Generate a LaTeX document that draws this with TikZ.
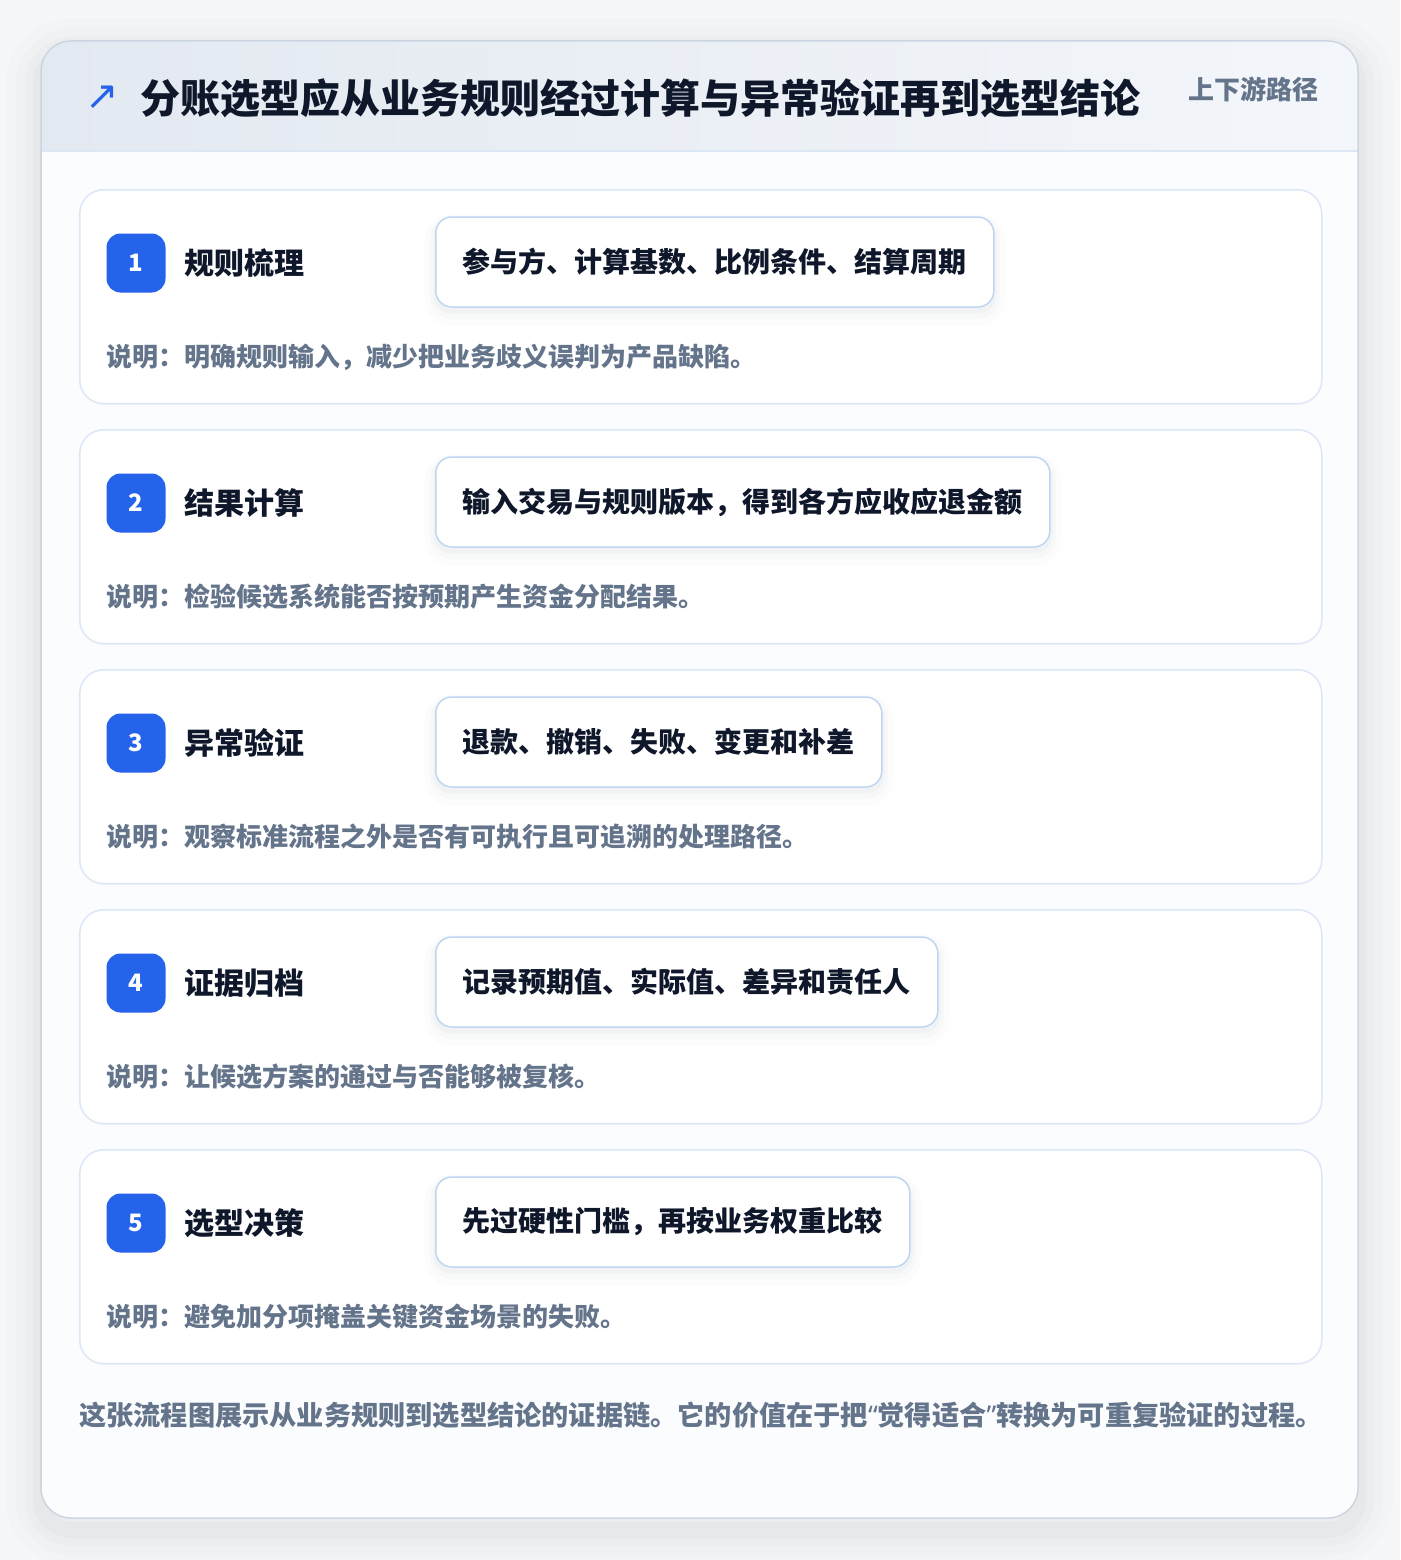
\documentclass[tikz,border=0pt]{standalone}
\usepackage{fontspec}
\setmainfont{Noto Sans CJK SC}
\newfontfamily\symfont{DejaVu Sans}
\newfontfamily\latinfont{Noto Sans}
\usetikzlibrary{positioning}

\definecolor{pagebg}{HTML}{F6F7F9}
\definecolor{cardbg}{HTML}{FBFCFE}
\definecolor{frame}{HTML}{CBD5E1}
\definecolor{hdrL}{HTML}{E3E9F1}
\definecolor{hdrR}{HTML}{F3F6FA}
\definecolor{hdrline}{HTML}{DCE7F5}
\definecolor{stepline}{HTML}{DBE7F7}
\definecolor{boxline}{HTML}{BFD6F3}
\definecolor{accent}{HTML}{2563EB}
\definecolor{ink}{HTML}{0F172A}
\definecolor{muted}{HTML}{64748B}
\definecolor{shade}{HTML}{475569}

\tikzset{
  stepcard/.style={draw=stepline, fill=white, line width=1.5pt, rounded corners=24pt,
    minimum width=1242pt, minimum height=214pt, inner sep=0pt, anchor=north west},
  badge/.style={fill=accent, rounded corners=14pt, minimum size=59pt, inner sep=0pt,
    text=white, font=\bfseries\fontsize{24}{24}\selectfont},
  steptitle/.style={anchor=west, inner sep=0pt, text=ink, font=\bfseries\fontsize{30}{30}\selectfont},
  keybox/.style={draw=boxline, fill=white, line width=1.5pt, rounded corners=16pt,
    minimum height=90pt, inner xsep=27pt, anchor=west, text=ink,
    font=\bfseries\fontsize{28}{28}\selectfont,
    preaction={draw=shade, line width=22pt, opacity=0.015, transform canvas={yshift=-8pt}},
    preaction={draw=shade, line width=12pt, opacity=0.025, transform canvas={yshift=-6pt}},
    preaction={draw=shade, line width=5pt, opacity=0.03, transform canvas={yshift=-4pt}}},
  note/.style={anchor=west, inner sep=0pt, text=muted, font=\bfseries\fontsize{26}{26}\selectfont},
}

\begin{document}
\begin{tikzpicture}[x=1pt, y=-1pt]
  \useasboundingbox (0,0) rectangle (1400,1560);
  \fill[pagebg] (0,0) rectangle (1400,1560);

  % soft shadow under the main card
  \foreach \w/\o in {70/0.01, 50/0.012, 32/0.016, 16/0.02}
    \draw[shade, line width=\w pt, opacity=\o, rounded corners=30pt]
      (41,53) rectangle (1358,1530);
  \fill[cardbg, rounded corners=30pt] (41,41) rectangle (1358,1518);

  % header band
  \begin{scope}
    \clip[rounded corners=30pt] (41,41) rectangle (1358,1518);
    \shade[left color=hdrL, right color=hdrR] (41,41) rectangle (1358,151);
  \end{scope}
  \draw[hdrline, line width=1.5pt] (41,151) -- (1358,151);
  \draw[frame, line width=1.5pt, rounded corners=30pt] (41,41) rectangle (1358,1518);

  \node[text=accent, font=\symfont\fontsize{40}{40}\selectfont] (arrow) at (102,98) {↗};
  \node[anchor=west, inner sep=0pt, text=ink, font=\bfseries\fontsize{40}{40}\selectfont] (title) at (140,98)
    {分账选型应从业务规则经过计算与异常验证再到选型结论};
  \node[anchor=west, inner sep=0pt, text=muted, font=\bfseries\fontsize{26}{26}\selectfont] (tag) at (1188,89)
    {上下游路径};

  % the five steps
  \foreach \i/\name/\key/\why in {
      1/规则梳理/参与方、计算基数、比例条件、结算周期/明确规则输入，减少把业务歧义误判为产品缺陷。,
      2/结果计算/输入交易与规则版本，得到各方应收应退金额/检验候选系统能否按预期产生资金分配结果。,
      3/异常验证/退款、撤销、失败、变更和补差/观察标准流程之外是否有可执行且可追溯的处理路径。,
      4/证据归档/记录预期值、实际值、差异和责任人/让候选方案的通过与否能够被复核。,
      5/选型决策/先过硬性门槛，再按业务权重比较/避免加分项掩盖关键资金场景的失败。}{
    \pgfmathsetmacro{\top}{189+240*(\i-1)}
    \node[stepcard] (card\i) at (79,\top) {};
    \node[badge] (badge\i) at (136,\top+74) {\i};
    \node[steptitle] (name\i) at (184,\top+74) {\name};
    \node[keybox] (key\i) at (435,\top+73) {\key};
    \node[note] (note\i) at (106,\top+168) {说明：\why};
  }

  \node[anchor=west, inner sep=0pt, text=muted, font=\bfseries\fontsize{27.2}{27.2}\selectfont] (summary) at (79,1415)
    {这张流程图展示从业务规则到选型结论的证据链。它的价值在于把{\latinfont “}觉得适合{\latinfont ”}转换为可重复验证的过程。};
\end{tikzpicture}
\end{document}
